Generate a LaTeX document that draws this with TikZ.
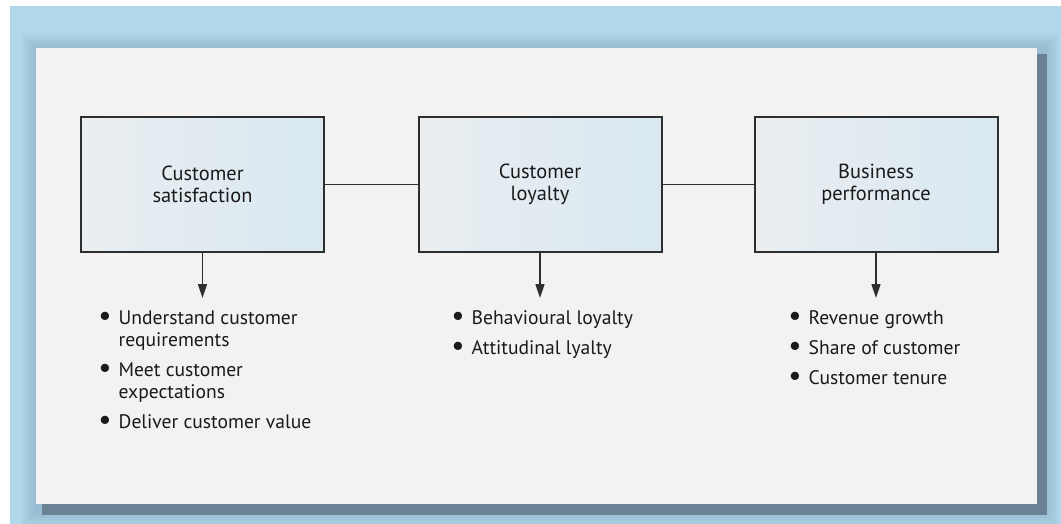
\documentclass[tikz,border=0pt]{standalone}
\usepackage{fontspec}
\setmainfont{PT Sans}
\usetikzlibrary{arrows.meta}

\definecolor{bgblue}{HTML}{B1D7EB}
\definecolor{glow}{HTML}{6F93A8}
\definecolor{shadowc}{HTML}{6A8293}
\definecolor{panel}{HTML}{F2F2F2}
\definecolor{boxleft}{HTML}{EAEEF1}
\definecolor{boxright}{HTML}{D9E8F1}
\definecolor{boxline}{HTML}{2E2E2E}
\definecolor{txt}{HTML}{1A1A1A}

\newcommand{\bul}{\raisebox{-0.5pt}{\scalebox{1.5}{\textbullet}}}

\begin{document}
\begin{tikzpicture}[x=0.5pt,y=-0.5pt,
  factor/.style={draw=boxline,line width=1pt,left color=boxleft,right color=boxright,
    minimum width=121.5pt,minimum height=67.5pt,align=center,text=txt,
    font=\fontsize{10.2}{11}\selectfont},
  link/.style={draw=boxline,line width=0.8pt},
  down/.style={link,-{Triangle[length=7pt,width=4.5pt]}},
  points/.style={anchor=north west,inner sep=0pt,text=txt,
    font=\fontsize{9.8}{11}\selectfont}]

\useasboundingbox (0,0) rectangle (1061,524);
\fill[white] (0,0) rectangle (1061,524);
\fill[bgblue] (10,6) rectangle (1061,524);
% soft glow round the panel
\foreach \d in {14,11,8,5,2}
  \fill[glow,opacity=0.08] (36-\d,48-\d) rectangle (1045+\d,513+\d);
\fill[shadowc] (42,54) rectangle (1047,515);
\fill[panel] (36,48) rectangle (1037,504);

% boxes
\node[factor] (CS) at (202.5,184.5) {Customer\\satisfaction};
\node[factor] (CL) at (540,184.5) {Customer\\loyalty};
\node[factor] (BP) at (876,184.5) {Business\\performance};

\draw[link] (CS) -- (CL);
\draw[link] (CL) -- (BP);

\coordinate (CSd) at ([yshift=-22.5pt]CS.south);
\coordinate (CLd) at ([yshift=-22.5pt]CL.south);
\coordinate (BPd) at ([yshift=-22.5pt]BP.south);
\draw[down] (CS.south) -- (CSd);
\draw[down] (CL.south) -- (CLd);
\draw[down] (BP.south) -- (BPd);

% lists
\node[points] (CSl) at (98,309) {\begin{tabular}{@{}l@{\hspace{3.5pt}}l@{}}
  \bul & Understand customer\\
       & requirements\\[4pt]
  \bul & Meet customer\\
       & expectations\\[4pt]
  \bul & Deliver customer value
  \end{tabular}};
\node[points] (CLl) at (451,309) {\begin{tabular}{@{}l@{\hspace{3.5pt}}l@{}}
  \bul & Behavioural loyalty\\[4pt]
  \bul & Attitudinal lyalty
  \end{tabular}};
\node[points] (BPl) at (788,309) {\begin{tabular}{@{}l@{\hspace{3.5pt}}l@{}}
  \bul & Revenue growth\\[4pt]
  \bul & Share of customer\\[4pt]
  \bul & Customer tenure
  \end{tabular}};
\end{tikzpicture}
\end{document}
